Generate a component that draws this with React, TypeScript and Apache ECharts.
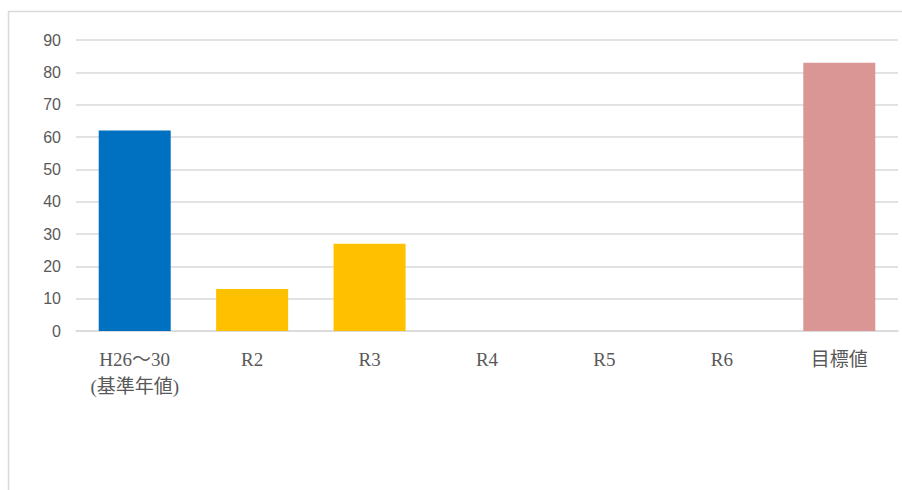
import React, { useEffect, useRef } from "react";
import * as echarts from "echarts";

const categories = ["H26～30\n(基準年値)", "R2", "R3", "R4", "R5", "R6", "目標値"];
const values: (number | null)[] = [62, 13, 27, null, null, null, 83];
const barColors = ["#0070C0", "#FFC000", "#FFC000", "#FFC000", "#FFC000", "#FFC000", "#D99694"];
const yTicks = { min: 0, max: 90, interval: 10 };

export default function App() {
  const ref = useRef<HTMLDivElement>(null);
  useEffect(() => {
    if (!ref.current) return;
    const chart = echarts.init(ref.current, undefined, { renderer: "svg" });
    chart.setOption({
      animation: false,
      backgroundColor: "#ffffff",
      graphic: [
        {
          type: "rect",
          shape: { x: 8.5, y: 11.5, width: 1000, height: 1000 },
          style: { fill: "none", stroke: "#d9d9d9", lineWidth: 1.5 },
          silent: true,
        },
      ],
      grid: { left: 76, right: 4, top: 40, bottom: 159, containLabel: false },
      xAxis: {
        type: "category",
        data: categories,
        axisLine: { show: true, lineStyle: { color: "#d9d9d9", width: 1.5 } },
        axisTick: { show: false },
        axisLabel: {
          color: "#595959",
          fontFamily: "'Liberation Serif', 'Noto Sans CJK JP', serif",
          fontSize: 19,
          lineHeight: 27,
          margin: 15,
          interval: 0,
        },
      },
      yAxis: {
        type: "value",
        min: yTicks.min,
        max: yTicks.max,
        interval: yTicks.interval,
        axisLine: { show: false },
        axisTick: { show: false },
        splitLine: { lineStyle: { color: "#d9d9d9", width: 1.5 } },
        axisLabel: {
          color: "#595959",
          fontFamily: "'Liberation Sans', Arial, sans-serif",
          fontSize: 16,
          margin: 15,
        },
      },
      series: [
        {
          type: "bar",
          barWidth: 72,
          data: values.map((v, i) => ({
            value: v === null ? "-" : v,
            itemStyle: { color: barColors[i] },
          })),
        },
      ],
    });
    return () => chart.dispose();
  }, []);
  return (
    <div
      ref={ref}
      style={{ position: "fixed", left: 0, top: 0, width: 902, height: 490 }}
    />
  );
}
